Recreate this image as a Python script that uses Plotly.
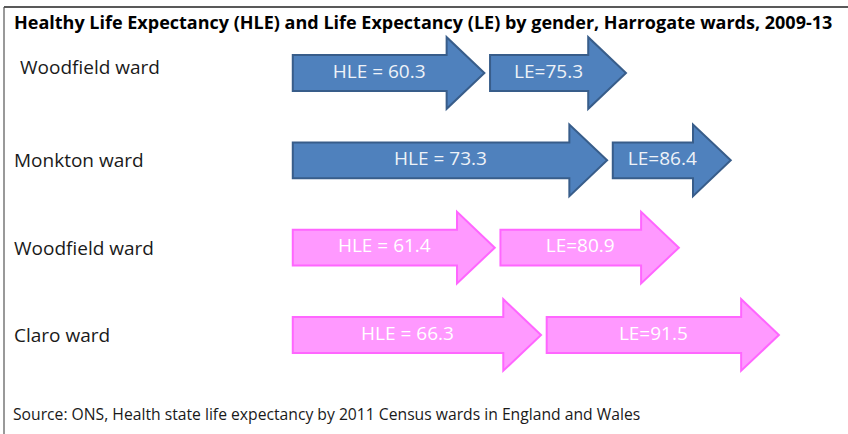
import plotly.graph_objects as go

# ---- data ----
wards = ["Woodfield ward", "Monkton ward", "Woodfield ward", "Claro ward"]
genders = ["Male", "Male", "Female", "Female"]
hle = [60.3, 73.3, 61.4, 66.3]
le = [75.3, 86.4, 80.9, 91.5]

title = "Healthy Life Expectancy (HLE) and Life Expectancy (LE) by gender, Harrogate wards, 2009-13"
source = "Source: ONS, Health state life expectancy by 2011 Census wards in England and Wales"

# ---- style ----
FONT = "Open Sans"
ARROW_START = 40.0   # age where HLE arrows begin
GAP = 0.6            # gap (years) between HLE tip and LE arrow
HEAD_LEN = 4.0       # arrow head length (years)
BODY_HALF = 0.205    # half height of arrow body (row units)
HEAD_HALF = 0.41     # half height of arrow head (row units)
fills = {"Male": "#4F81BD", "Female": "#FF99FF"}
lines = {"Male": "#385D8A", "Female": "#FF66FF"}
txtcol = {"Male": "#EEF2F8", "Female": "#FFFFFF"}


def arrow_path(x0, x1, yc):
    xh = x1 - HEAD_LEN
    pts = [(x0, yc - BODY_HALF), (xh, yc - BODY_HALF), (xh, yc - HEAD_HALF),
           (x1, yc), (xh, yc + HEAD_HALF), (xh, yc + BODY_HALF), (x0, yc + BODY_HALF)]
    return "M " + " L ".join(f"{x},{y}" for x, y in pts) + " Z"


fig = go.Figure()
shapes = []
tx, ty, tt, tc = [], [], [], []
for i, (g, h, l) in enumerate(zip(genders, hle, le)):
    for x0, x1, lab in [(ARROW_START, h, f"HLE = {h}"), (h + GAP, l, f"LE={l}")]:
        shapes.append(dict(type="path", xref="x", yref="y", path=arrow_path(x0, x1, i),
                           fillcolor=fills[g], line=dict(color=lines[g], width=2), layer="below"))
        tx.append((x0 + x1 - HEAD_LEN / 2) / 2)
        ty.append(i)
        tt.append(lab)
        tc.append(txtcol[g])

fig.add_trace(go.Scatter(x=tx, y=ty, mode="text", text=tt,
                         textfont=dict(family=FONT, size=19, color=tc),
                         hoverinfo="skip", showlegend=False))

annotations = []
for i, w in enumerate(wards):
    annotations.append(dict(xref="paper", yref="y", x=0.014 if i else 0.021, y=i - (0.07 if i == 0 else 0),
                            text=w, showarrow=False, xanchor="left", yanchor="middle",
                            font=dict(family=FONT, size=19, color="#1a1a1a")))
annotations.append(dict(xref="paper", yref="paper", x=0.014, y=1 - 22 / 434, text=f"<b>{title}</b>",
                        showarrow=False, xanchor="left", yanchor="middle",
                        font=dict(family=FONT, size=18, color="#000000")))
annotations.append(dict(xref="paper", yref="paper", x=0.013, y=1 - 414 / 434, text=source,
                        showarrow=False, xanchor="left", yanchor="middle",
                        font=dict(family=FONT, size=15.7, color="#1a1a1a")))

# frame lines
shapes.append(dict(type="line", xref="paper", yref="paper", x0=4 / 848, x1=1, y0=1 - 7 / 434, y1=1 - 7 / 434,
                   line=dict(color="#222222", width=1.5)))
shapes.append(dict(type="line", xref="paper", yref="paper", x0=4 / 848, x1=4 / 848, y0=0, y1=1 - 7 / 434,
                   line=dict(color="#555555", width=1.2)))

fig.update_layout(
    width=848, height=434,
    margin=dict(l=0, r=0, t=0, b=0),
    paper_bgcolor="white", plot_bgcolor="white",
    xaxis=dict(range=[8.985, 98.82], visible=False, fixedrange=True),
    yaxis=dict(range=[4.134, -0.836], visible=False, fixedrange=True),
    shapes=shapes, annotations=annotations,
    showlegend=False,
)

fig.write_html("out.html", config={"displayModeBar": False},
               post_script="document.body.style.margin='0';document.body.style.overflow='hidden';")
